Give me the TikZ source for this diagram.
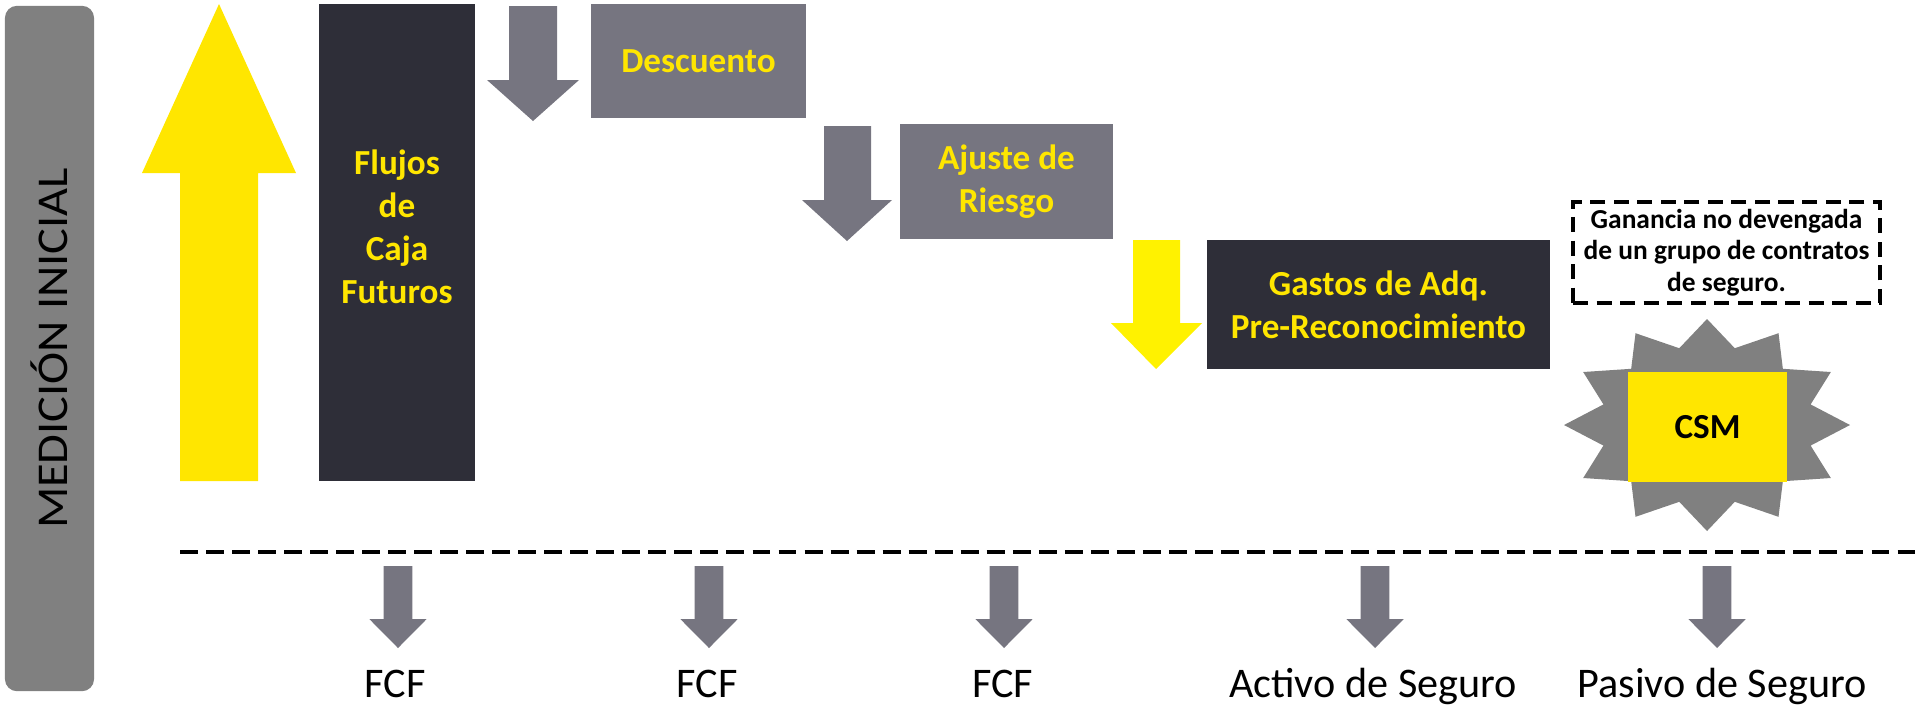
\documentclass[tikz,border=0pt]{standalone}
\usepackage{fontspec}
\setmainfont{Carlito}
\usepackage{tikz}
\definecolor{eyellow}{RGB}{255,230,0}
\definecolor{boxgray}{RGB}{118,117,128}
\definecolor{darkbox}{RGB}{46,46,56}
\definecolor{bargray}{RGB}{128,128,128}
\tikzset{
  box/.style={inner sep=0pt, outer sep=0pt, align=center, text=eyellow,
    font=\fontsize{10}{12.2}\selectfont\bfseries},
  boxtext/.style={inner sep=0pt, align=center, text=eyellow,
    font=\fontsize{10}{12.2}\selectfont\bfseries},
  result/.style={inner sep=0pt, anchor=base, font=\fontsize{12}{14}\selectfont},
  sepline/.style={line width=1.4pt, dash pattern=on 5.1pt off 2.3pt}
}

\begin{document}
\begin{tikzpicture}[x=0.01cm, y=-0.01cm]
		\useasboundingbox (0,0) rectangle (1919,711);
		% barra lateral
		\node[fill=bargray, rounded corners=0.12cm, rotate=90, inner sep=0pt,
		  minimum width=6.85cm, minimum height=0.89cm,
		  font=\fontsize{12.5}{14}\selectfont] (medicion) at (49.5,348.5)
		  {\scalebox{1.1}[1]{MEDICIÓN INICIAL}};
		% flecha amarilla
		\fill[eyellow] (180,481) -- (180,173) -- (142,173) -- (219,4) -- (296,173) -- (258,173) -- (258,481) -- cycle;
		% cajas
		\node[box, fill=darkbox, minimum width=1.56cm, minimum height=4.77cm] (flujos) at (397,242.5) {};
		\node[boxtext] (flujostxt) at (397,227) {Flujos\\de\\Caja\\Futuros};
		\fill[boxgray] (509,6) -- (557,6) -- (557,80) -- (579,80) -- (533,121) -- (487,80) -- (509,80) -- cycle;
		\node[box, fill=boxgray, minimum width=2.15cm, minimum height=1.14cm] (descuento) at (698.5,61) {Descuento};
		\fill[boxgray] (824,126) -- (871,126) -- (871,200) -- (892,200) -- (847,241) -- (802,200) -- (824,200) -- cycle;
		\node[box, fill=boxgray, minimum width=2.13cm, minimum height=1.15cm] (ajuste) at (1006.5,181.5) {Ajuste de\\Riesgo};
		\fill[yellow] (1133,240) -- (1180,240) -- (1180,323) -- (1202,323) -- (1156,369) -- (1111,323) -- (1133,323) -- cycle;
		\node[box, fill=darkbox, minimum width=3.43cm, minimum height=1.29cm] (gastos) at (1378.5,304.5) {Gastos de Adq.\\Pre-Reconocimiento};
		% ganancia y CSM
		\node[draw, line width=1.1pt, dash pattern=on 4.3pt off 2.4pt, inner sep=0pt, align=center,
		  minimum width=3.07cm, minimum height=1.01cm, font=\fontsize{7.8}{9}\selectfont\bfseries]
		  (ganancia) at (1726.5,252.5) {Ganancia no devengada\\de un grupo de contratos\\de seguro.};
		\fill[bargray] plot[samples at={0,...,23}, variable=\k]
		  ({1707+143*(1-0.25*mod(\k,2))*cos(90+15*\k)}, {425-106*(1-0.25*mod(\k,2))*sin(90+15*\k)}) -- cycle;
		\node[fill=eyellow, inner sep=0pt, minimum width=1.59cm, minimum height=1.10cm,
		  font=\fontsize{10}{12}\selectfont\bfseries] (csm) at (1707.5,427) {CSM};
		% linea punteada
		\coordinate (sepA) at (180,552);
		\coordinate (sepB) at (1919,552);
		\draw[sepline] (sepA) -- (sepB);
		% resultados
		\foreach \c in {398,709,1004,1375,1717}{
			\fill[boxgray] (\c-14.3,566) -- (\c+14.3,566) -- (\c+14.3,619) -- (\c+28.7,619) -- (\c,648) -- (\c-28.7,619) -- (\c-14.3,619) -- cycle;
		}
		\node[result] (fcfa) at (395,697) {FCF};
		\node[result] (fcfb) at (707,697) {FCF};
		\node[result] (fcfc) at (1002.5,697) {FCF};
		\node[result] (activo) at (1373,697) {Activo de Seguro};
		\node[result] (pasivo) at (1722,697) {Pasivo de Seguro};
	\end{tikzpicture}
\end{document}
